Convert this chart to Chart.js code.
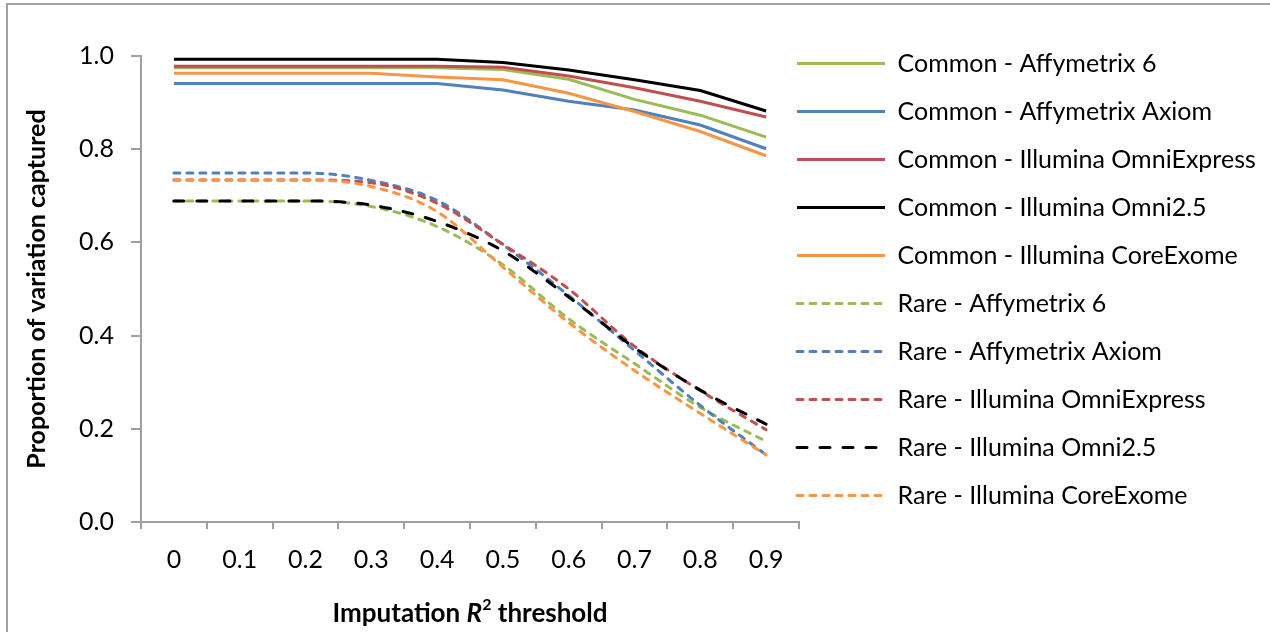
<!DOCTYPE html>
<html><head><meta charset="utf-8">
<script src="https://cdn.jsdelivr.net/npm/chart.js@4"></script>
<style>
html,body{margin:0;padding:0;background:#fff;}
#wrap{position:relative;width:1270px;height:632px;overflow:hidden;background:#fff;}
#frame{position:absolute;left:6px;top:3px;width:1300px;height:700px;border:2px solid #a0a0a0;box-sizing:border-box;}
canvas{position:absolute;left:0;top:0;}
</style></head><body>
<div id="wrap"><div id="frame"></div><canvas id="c" width="1270" height="632"></canvas></div>
<script>
const categories = ['0','0.1','0.2','0.3','0.4','0.5','0.6','0.7','0.8','0.9'];
const yTicks = [0, 0.2, 0.4, 0.6, 0.8, 1.0];

const seriesNames = [
  'Common - Affymetrix 6','Common - Affymetrix Axiom','Common - Illumina OmniExpress','Common - Illumina Omni2.5','Common - Illumina CoreExome',
  'Rare - Affymetrix 6','Rare - Affymetrix Axiom','Rare - Illumina OmniExpress','Rare - Illumina Omni2.5','Rare - Illumina CoreExome'
];
const commonAffy6       = [0.975,0.975,0.975,0.975,0.975,0.971,0.950,0.907,0.873,0.826];
const commonAxiom       = [0.941,0.941,0.941,0.941,0.941,0.927,0.903,0.884,0.852,0.801];
const commonOmniExpress = [0.978,0.978,0.978,0.978,0.978,0.976,0.957,0.932,0.903,0.869];
const commonOmni25      = [0.993,0.993,0.993,0.993,0.993,0.986,0.970,0.949,0.926,0.882];
const commonCoreExome   = [0.963,0.963,0.963,0.963,0.955,0.949,0.920,0.881,0.838,0.786];
const rareAffy6         = [0.689,0.689,0.689,0.677,0.634,0.552,0.436,0.340,0.246,0.173];
const rareAxiom         = [0.749,0.749,0.749,0.733,0.690,0.595,0.486,0.368,0.250,0.144];
const rareOmniExpress   = [0.734,0.734,0.734,0.728,0.684,0.596,0.500,0.377,0.282,0.198];
const rareOmni25        = [0.689,0.689,0.689,0.680,0.645,0.582,0.483,0.374,0.283,0.210];
const rareCoreExome     = [0.734,0.734,0.734,0.720,0.666,0.547,0.428,0.325,0.233,0.144];

const GREEN='#9bbb59', BLUE='#4f81bd', RED='#c0504d', BLACK='#000000', ORANGE='#f79646';
const AXIS='#a0a0a0';
const FONT='Lato';
const FS=25;

function ds(label, data, color, dash, curved){
  return {label, data, borderColor:color, backgroundColor:color, borderWidth:3,
    borderDash:dash, borderCapStyle: dash.length ? 'round' : 'butt',
    pointRadius:0, pointHoverRadius:0,
    cubicInterpolationMode: curved ? 'monotone' : 'default', tension:0, fill:false};
}
const shortDash=[6,7], longDash=[10,13];
const datasets = [
  ds(seriesNames[0], commonAffy6, GREEN, [], false),
  ds(seriesNames[1], commonAxiom, BLUE, [], false),
  ds(seriesNames[2], commonOmniExpress, RED, [], false),
  ds(seriesNames[3], commonOmni25, BLACK, [], false),
  ds(seriesNames[4], commonCoreExome, ORANGE, [], false),
  ds(seriesNames[5], rareAffy6, GREEN, shortDash, true),
  ds(seriesNames[6], rareAxiom, BLUE, shortDash, true),
  ds(seriesNames[7], rareOmniExpress, RED, shortDash, true),
  ds(seriesNames[8], rareOmni25, BLACK, longDash, true),
  ds(seriesNames[9], rareCoreExome, ORANGE, shortDash, true)
];
datasets.forEach((d,i)=>{ d.order = -i; });

const LEGEND_W = 471;
const legendShift = {
  id:'legendShift',
  beforeLayout(chart){
    const l = chart.legend;
    if (l && !l._patched){
      const orig = l.fit.bind(l);
      l.fit = function(){ orig(); this.width = LEGEND_W; };
      l._patched = true;
    }
  },
  afterLayout(chart){
    const l = chart.legend; if(!l) return;
    const dx=-25, dy=-28;
    l.left+=dx; l.top+=dy; l.bottom+=dy;
    l.width = 1270 - l.left; l.right = 1270;
    l.maxWidth = Math.max(l.maxWidth || 0, l.width);
  }
};
const xTitle = {
  id:'xTitle',
  afterDraw(chart){
    const ctx=chart.ctx, a=chart.chartArea;
    const cx=(a.left+a.right)/2, y=614;
    const parts=[
      {t:'Imputation ', f:'bold 26px '+FONT, dy:0},
      {t:'R', f:'italic bold 26px '+FONT, dy:0},
      {t:'2', f:'bold 16px '+FONT, dy:-9},
      {t:' threshold', f:'bold 26px '+FONT, dy:0}
    ];
    ctx.save();
    let total=0;
    parts.forEach(p=>{ctx.font=p.f; p.w=ctx.measureText(p.t).width; total+=p.w;});
    let x=cx-total/2;
    ctx.fillStyle='#000'; ctx.textBaseline='middle'; ctx.textAlign='left';
    parts.forEach(p=>{ctx.font=p.f; ctx.fillText(p.t,x,y+p.dy); x+=p.w;});
    ctx.restore();
  }
};

new Chart(document.getElementById('c'), {
  type:'line',
  data:{labels:categories, datasets},
  options:{
    responsive:false, animation:false, devicePixelRatio:1,
    layout:{padding:{top:56,left:0,right:0,bottom:0}},
    interaction:{mode:null},
    plugins:{
      tooltip:{enabled:false},
      title:{display:false},
      legend:{
        position:'right', align:'start',
        labels:{usePointStyle:true, pointStyle:'line', pointStyleWidth:88,
          font:{family:FONT,size:FS}, color:'#000', padding:23,
          sort:(a,b)=>a.datasetIndex-b.datasetIndex,
          generateLabels(chart){
            const items = Chart.defaults.plugins.legend.labels.generateLabels(chart);
            items.forEach(it=>{
              const d = chart.data.datasets[it.datasetIndex];
              it.lineDash = d.borderDash; it.lineWidth = 3; it.lineCap = d.borderCapStyle;
              it.strokeStyle = d.borderColor; it.fillStyle = d.borderColor; it.pointStyle = 'line';
              it.fontColor = '#000';
            });
            return items;
          }}
      }
    },
    scales:{
      x:{
        type:'category', offset:true,
        grid:{offset:true, drawOnChartArea:false, drawTicks:true, tickLength:7, color:AXIS, lineWidth:2},
        border:{color:AXIS, width:2},
        ticks:{padding:16, color:'#000', font:{family:FONT,size:FS}, maxRotation:0, autoSkip:false},
        afterFit(s){ s.height=110; }
      },
      y:{
        min:0, max:1,
        afterBuildTicks(s){ s.ticks = yTicks.map(v=>({value:v})); },
        grid:{drawOnChartArea:false, drawTicks:true, tickLength:10, color:AXIS, lineWidth:2},
        border:{color:AXIS, width:2},
        ticks:{padding:17, color:'#000', font:{family:FONT,size:FS}, callback:v=>Number(v).toFixed(1)},
        title:{display:true, text:'Proportion of variation captured', color:'#000',
          font:{family:FONT,size:FS,weight:'bold'}, padding:{top:22,bottom:0}},
        afterFit(s){ s.width=141; }
      }
    }
  },
  plugins:[legendShift, xTitle]
});
</script>
</body></html>
